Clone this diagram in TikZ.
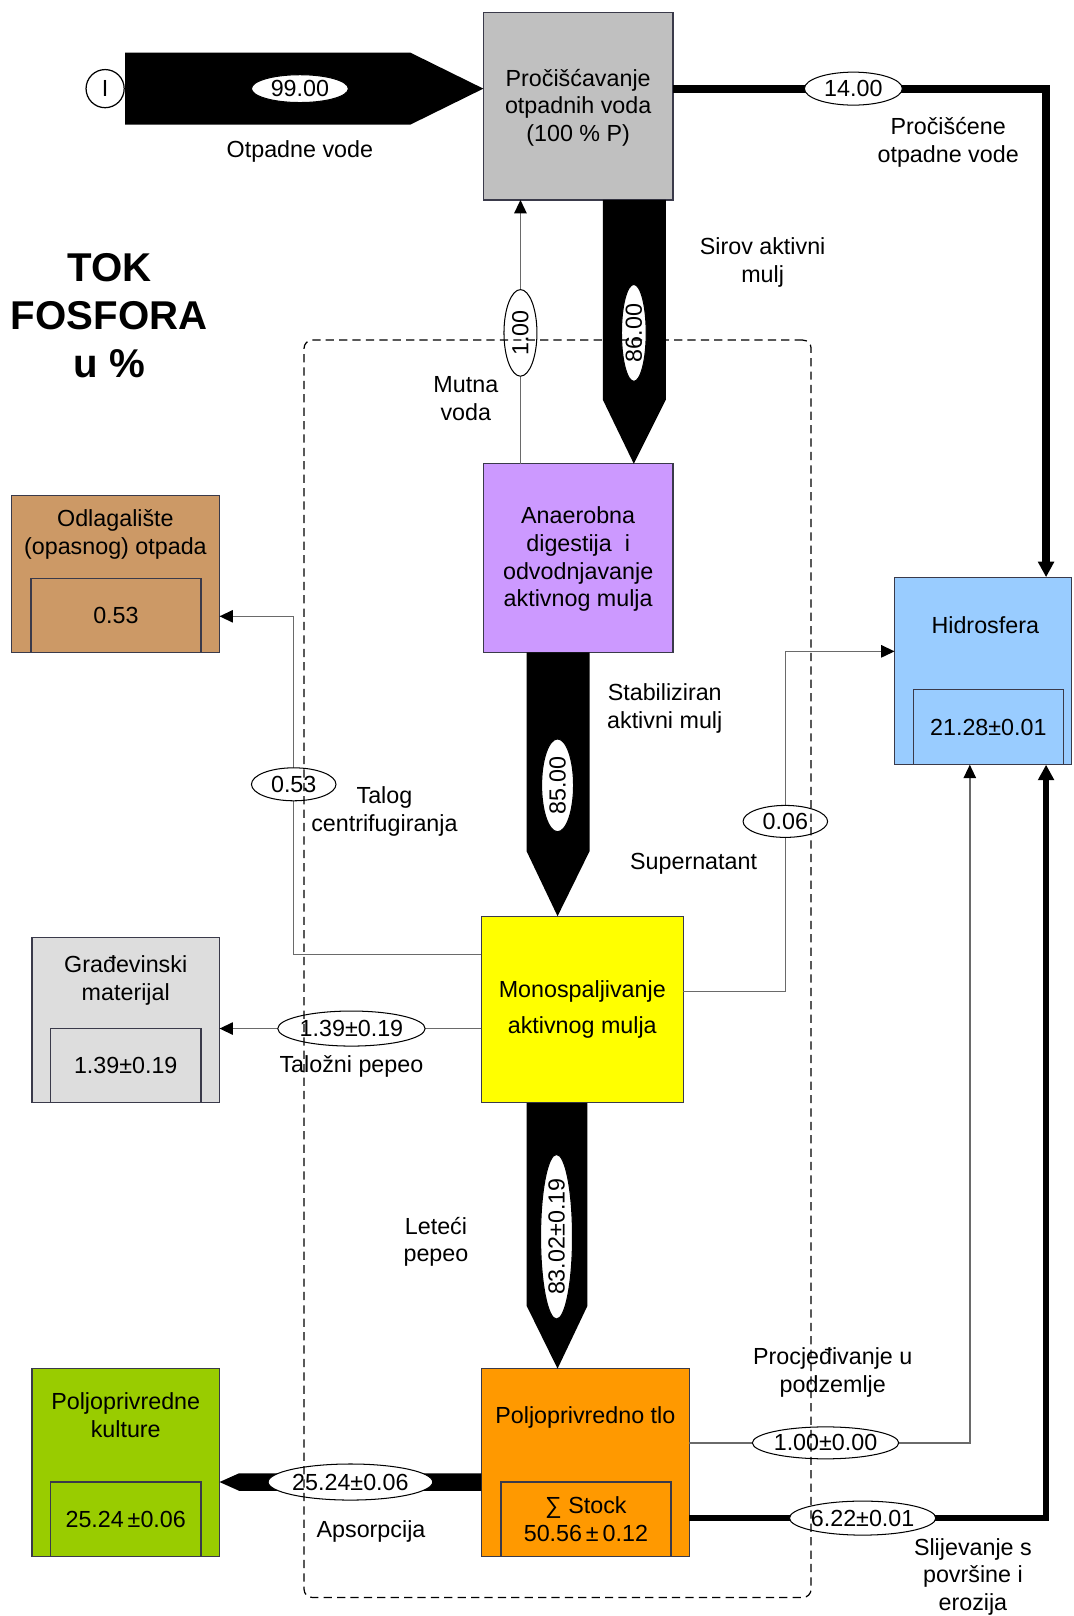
\documentclass[tikz,border=0pt]{standalone}
\usepackage{fontspec}
\setmainfont{Liberation Sans}
\usetikzlibrary{arrows.meta,shapes.geometric,calc}
\definecolor{cGray}{HTML}{C0C0C0}
\definecolor{cPurple}{HTML}{CC99FF}
\definecolor{cTan}{HTML}{CC9966}
\definecolor{cLight}{HTML}{DDDDDD}
\definecolor{cYellow}{HTML}{FFFF00}
\definecolor{cBlue}{HTML}{99CCFF}
\definecolor{cOrange}{HTML}{FF9900}
\definecolor{cGreen}{HTML}{99CC00}
\definecolor{cBorder}{HTML}{3A3A4A}
\definecolor{cConn}{HTML}{6A6A6A}
\begin{document}
\begin{tikzpicture}[x=0.5pt,y=-0.5pt,
  every node/.style={inner sep=0pt, outer sep=0pt},
  txt/.style={align=center, font=\fontsize{11.3}{13.5}\selectfont},
  procbox/.style={draw=cBorder, line width=0.6pt},
  valbox/.style={draw=cBorder, line width=0.6pt, txt},
  val/.style={ellipse, draw=black, line width=0.5pt, fill=white, font=\fontsize{11.3}{13.5}\selectfont},
  conn/.style={draw=cConn, line width=0.7pt, -{Triangle[length=6.5pt,width=6pt,color=black]}},
  thickconn/.style={draw=black, line join=miter, -{Triangle[length=7.5pt,width=7.5pt]}},
  blockarrow/.style={fill=black}
]
\fill[white] (0,0) rectangle (1042,1568);
\useasboundingbox (0,0) rectangle (1042,1568);

% process boxes
\node[procbox, fill=cGray,   minimum width=92pt,  minimum height=91pt]   (P1) at (561,103) {};
\node[procbox, fill=cPurple, minimum width=92pt,  minimum height=91.5pt] (P2) at (561,541.5) {};
\node[procbox, fill=cYellow, minimum width=98pt,  minimum height=90.5pt] (P3) at (565,979.5) {};
\node[procbox, fill=cOrange, minimum width=101pt, minimum height=91pt]   (P4) at (568,1419) {};
\node[procbox, fill=cBlue,   minimum width=86pt,  minimum height=91pt]   (Hidro) at (954,651) {};
\node[procbox, fill=cTan,    minimum width=101pt, minimum height=76pt]   (Odlag) at (112,557) {};
\node[procbox, fill=cLight,  minimum width=91pt,  minimum height=80pt]   (Grad) at (122,990) {};
\node[procbox, fill=cGreen,  minimum width=91pt,  minimum height=91pt]   (Kult) at (122,1419) {};

% stock boxes
\node[valbox, anchor=south, minimum width=82.5pt, minimum height=36pt] (vOd) at ($(Odlag.south)+(0.5,0)$) {0.53};
\node[valbox, anchor=south, minimum width=73pt, minimum height=36pt] (vGr) at (Grad.south) {1.39±0.19};
\node[valbox, anchor=south, minimum width=73pt, minimum height=36pt] (vKu) at (Kult.south) {25.24\,±0.06};
\node[valbox, anchor=south, minimum width=82.5pt, minimum height=36pt] (vP4) at ($(P4.south)+(0.5,0)$) {∑ Stock\\50.56\,±\,0.12};
\node[valbox, anchor=south, minimum width=73pt, minimum height=36.5pt] (vHi) at ($(Hidro.south)+(5,0)$) {21.28±0.01};

% box titles
\node[txt] (tP1) at (561,104.5) {Pročišćavanje\\otpadnih voda\\(100 \% P)};
\node[txt] (tP2) at (561,542.5) {Anaerobna\\digestija\ \ i\\odvodnjavanje\\aktivnog mulja};
\node[txt] (tP3) at (565,979.5) {Monospaljivanje\\[4pt]aktivnog mulja};
\node[txt] (tP4) at (568,1375) {Poljoprivredno tlo};
\node[txt] (tHi) at (956,607) {Hidrosfera};
\node[txt] (tOd) at (112,518.5) {Odlagalište\\(opasnog) otpada};
\node[txt] (tGr) at (122,951.5) {Građevinski\\materijal};
\node[txt] (tKu) at (122,1373.5) {Poljoprivredne\\kulture};

% input
\node[circle, draw=black, line width=0.6pt, fill=white, minimum size=18.5pt, txt] (I) at (102,86) {I};
\coordinate (yTop) at (0,86);
\fill[blockarrow] ($(I.east)+(1,-35)$) -- (398,51) -- (P1.west |- yTop) -- (398,121) -- ($(I.east)+(1,35)$) -- cycle;

% block arrows
\fill[blockarrow] ($(P1.south west)+(116,0)$) -- ($(P1.south west)+(177,0)$) -- (646,388) -- ($(P2.north west)+(146,0)$) -- (585,388) -- cycle;
\fill[blockarrow] ($(P2.south west)+(42,0)$) -- ($(P2.south west)+(103,0)$) -- (572,826) -- ($(P3.north west)+(74,0)$) -- (511,826) -- cycle;
\fill[blockarrow] ($(P3.south west)+(44,0)$) -- ($(P3.south west)+(103,0)$) -- (570,1267) -- ($(P4.north west)+(74,0)$) -- (511,1267) -- cycle;
\fill[blockarrow] ($(P4.south west)+(0,-80.5)$) -- (232,1429.5) -- ($(Kult.south east)+(0,-72)$) -- (232,1446.5) -- ($(P4.south west)+(0,-63.5)$) -- cycle;

% thin connectors
\coordinate (xMV) at (505,0);
\draw[conn] (P2.north -| xMV) -- (P1.south -| xMV);
\coordinate (tA) at (285,598);
\draw[conn] ($(P3.north west)+(0,37)$) -| (tA) -- (Odlag.east |- tA);
\coordinate (sA) at (762,632);
\draw[conn] ($(P3.north east)+(0,73)$) -| (sA) -- (Hidro.west |- sA);
\coordinate (yTal) at (0,998);
\draw[conn] (P3.west |- yTal) -- (Grad.east |- yTal);
\coordinate (lA) at (941,1400);
\draw[conn] (P4.east |- lA) -| (Hidro.south -| lA);

% thick connectors
\coordinate (tT) at (1015,86);
\draw[thickconn, line width=4pt] (P1.east |- tT) -| (Hidro.north -| tT);
\coordinate (rA) at (1015,1473);
\draw[thickconn, line width=3pt] (P4.east |- rA) -| (Hidro.south -| rA);

% flow values
\node[val, minimum width=47pt, minimum height=13.5pt] (e99) at (291,86) {99.00};
\node[val, minimum width=47.5pt, minimum height=16pt] (e14) at (828,86) {14.00};
\node[val, rotate=90, minimum width=42pt, minimum height=16pt] (e1) at (505,323) {1.00};
\node[val, rotate=90, minimum width=47pt, minimum height=12pt] (e86) at (615,323) {86.00};
\node[val, rotate=90, minimum width=45pt, minimum height=15.5pt] (e85) at (541,762) {85.00};
\node[val, rotate=90, minimum width=76pt, minimum height=15.5pt] (e83) at (540,1200) {83.02±0.19};
\node[val, minimum width=41pt, minimum height=16pt] (e053) at (285,761) {0.53};
\node[val, minimum width=41pt, minimum height=15.5pt] (e006) at (762,797) {0.06};
\node[val, minimum width=71.5pt, minimum height=17pt] (e139) at (341,998) {1.39±0.19};
\node[val, minimum width=71pt, minimum height=15.5pt] (e100) at (801,1400) {1.00±0.00};
\node[val, minimum width=71pt, minimum height=16.5pt] (e622) at (837,1473) {6.22±0.01};
\node[val, minimum width=76.5pt, minimum height=17.5pt] (e2524) at (340,1438) {25.24±0.06};

% flow labels
\node[txt] (lOtp) at (291,147) {Otpadne vode};
\node[txt] (lPro) at (920,138) {Pročišćene\\otpadne vode};
\node[txt] (lSir) at (740,254.5) {Sirov aktivni\\mulj};
\node[txt] (lMut) at (452,387) {Mutna\\voda};
\node[txt] (lSta) at (645,687.5) {Stabiliziran\\aktivni mulj};
\node[txt] (lTal) at (373,787) {Talog\\centrifugiranja};
\node[txt] (lSup) at (673,838) {Supernatant};
\node[txt] (lTaz) at (341,1035) {Taložni pepeo};
\node[txt] (lLet) at (423,1205) {Leteći\\pepeo};
\node[txt] (lPrc) at (808,1331.5) {Procjeđivanje u\\podzemlje};
\node[txt] (lAps) at (360,1486) {Apsorpcija};
\node[txt] (lSli) at (944,1530) {Slijevanje s\\površine i\\erozija};

% title
\node[align=center, font=\fontsize{19.5}{23.25}\selectfont\bfseries] (title) at (106,306.5) {TOK\\FOSFORA\\u \%};

% system boundary
\node[draw=black, dash pattern=on 4pt off 2.5pt, line width=0.6pt, rounded corners=4pt,
      minimum width=246pt, minimum height=610pt] (sys) at (541,940) {};
\end{tikzpicture}
\end{document}
